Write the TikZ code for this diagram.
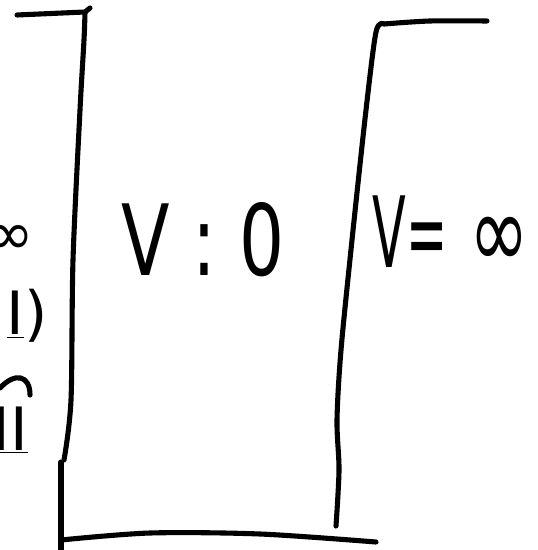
\documentclass[tikz,border=0pt]{standalone}
\usepackage{fontspec}
\setmainfont{DejaVu Sans}
\tikzset{
  stroke/.style={line width=2.9pt, line cap=round, line join=round},
  potlabel/.style={font=\fontsize{56}{60}\selectfont, inner sep=0pt},
  cutlabel/.style={font=\fontsize{34}{38}\selectfont, inner sep=0pt}
}

\begin{document}
\begin{tikzpicture}[x=0.02cm,y=-0.02cm]
  \useasboundingbox (0,0) rectangle (537,550);
  \clip (0,0) rectangle (537,550);
  % corners of the well
  \coordinate (lt) at (85,12);
  \coordinate (lb) at (61,540);
  \coordinate (rb) at (336,526);
  \coordinate (rt) at (384,24);
  % left wall and its top
  \draw[stroke] (17,15) -- (lt) -- (90,8);
  \draw[stroke] plot[smooth] coordinates {(lt) (84,40) (80,110) (73,260) (71,400) (64,460)};
  \draw[stroke] plot[smooth] coordinates {(61,462) (61,500) (lb) (61,550)};
  % floor
  \draw[stroke] plot[smooth] coordinates {(lb) (150,533) (260,534) (376,542)};
  % right wall and its top
  \draw[stroke] plot[smooth] coordinates {(rb) (339,470) (337,420) (341,350) (352,240) (366,110) (376,32) (rt)};
  \draw[stroke] plot[smooth] coordinates {(rt) (430,21) (487,21)};
  % labels
  \node[potlabel, xscale=0.72] (vzero) at (203,240) {V : 0};
  \node[potlabel, xscale=0.5] (vinf) at (410,232) {V=};
  \node[font=\fontsize{60}{60}\selectfont, inner sep=0pt, xscale=0.68] (infsym) at (499,243) {∞};
  % cut-off labels at the left edge
  \node[cutlabel] (infcut) at (9,240) {∞};
  \node[cutlabel, anchor=east] (regone) at (48,316) {\underline{I})};
  \draw[stroke] (0,388) .. controls (15,372) and (30,375) .. (30,395);
  \node[cutlabel, anchor=east] (regtwo) at (28,430) {\underline{II}};
\end{tikzpicture}
\end{document}
